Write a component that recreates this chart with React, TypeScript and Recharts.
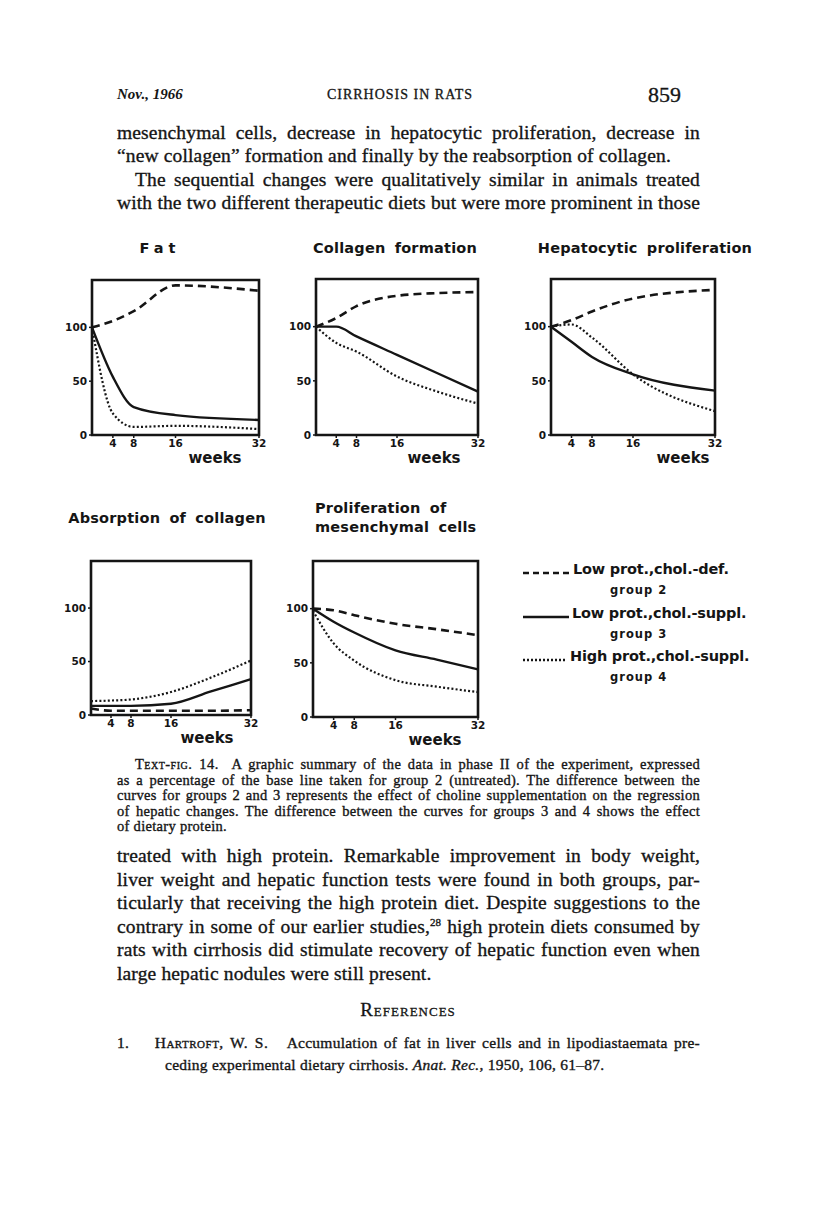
import React from 'react';
import { LineChart, Line, XAxis, YAxis, ReferenceArea } from 'recharts';

// weeks of observation and values (% of group 2 base line) for each panel
const fatWeeks = [0, 4, 8, 16, 32];
const fatGroup2 = [100, 106, 115, 139, 134];
const fatGroup3 = [100, 54, 26, 18.5, 14];
const fatGroup4 = [100, 20, 7.5, 8.5, 5.5];

const collagenWeeks = [0, 4, 8, 16, 24, 32];
const collagenGroup2 = [100, 108, 119, 128.5, 131, 132];
const collagenGroup3 = [100, 100, 91, 74, 57, 40];
const collagenGroup4 = [100, 85, 77, 54, 40, 29];

const hepatoWeeks = [0, 4, 8, 16, 32];
const hepatoGroup2 = [100, 106, 114, 126, 134];
const hepatoGroup3 = [100, 86, 72, 56, 41];
const hepatoGroup4 = [100, 102, 90, 56, 22];

const absorptionWeeks = [0, 4, 8, 16, 24, 32];
const absorptionGroup2 = [6, 4, 4, 4, 4, 4.5];
const absorptionGroup3 = [8.5, 8.5, 8.5, 10.5, 22, 33.5];
const absorptionGroup4 = [13, 13.5, 14.5, 21.5, 35, 51];

const mesenWeeks = [0, 4, 8, 16, 24, 32];
const mesenGroup2 = [100, 98.5, 94, 86, 81, 75.5];
const mesenGroup3 = [100, 88, 78, 61.5, 53, 44];
const mesenGroup4 = [98, 68, 52, 34, 28, 23];

const xTicks = [4, 8, 16, 32];
const yTicks = [0, 50, 100];

const INK = '#151515';
const SANS = '"DejaVu Sans", Verdana, sans-serif';
const SERIF = '"Liberation Serif", "Times New Roman", serif';

type Box = { l: number; t: number; r: number; b: number };

function Panel({ weeks, g2, g3, g4, box, weeksX }: {
  weeks: number[]; g2: number[]; g3: number[]; g4: number[]; box: Box; weeksX: number;
}) {
  const data = weeks.map((w, i) => ({ week: w, g2: g2[i], g3: g3[i], g4: g4[i] }));
  const yw = 45;
  const mt = 10;
  const mr = 14;
  const xh = 32;
  const pw = box.r - box.l;
  const ph = box.b - box.t;
  const tick = { fill: INK, fontSize: 10.5, fontWeight: 700, fontFamily: SANS };
  return (
    <div style={{ position: 'absolute', left: box.l - yw, top: box.t - mt }}>
      <LineChart width={pw + yw + mr} height={ph + mt + xh} data={data}
        margin={{ top: mt, right: mr, left: 0, bottom: 0 }}>
        <XAxis type="number" dataKey="week" domain={[0, 32]} ticks={xTicks} axisLine={false}
          tickLine={{ stroke: INK, strokeWidth: 1.5 }} tickSize={3} tick={tick} interval={0}
          height={xh}
          label={{ value: 'weeks', position: 'insideBottom', offset: 4, dx: weeksX - (box.l + pw / 2),
            fill: INK, fontSize: 15, fontWeight: 700, fontFamily: SANS }} />
        <YAxis type="number" domain={[0, 144]} ticks={yTicks} axisLine={false} width={yw}
          tickLine={{ stroke: INK, strokeWidth: 1.5 }} tickSize={3} tick={tick} interval={0} />
        <Line type="monotone" dataKey="g2" stroke={INK} strokeWidth={2.6} strokeDasharray="8 5"
          dot={false} isAnimationActive={false} />
        <Line type="monotone" dataKey="g3" stroke={INK} strokeWidth={2.4}
          dot={false} isAnimationActive={false} />
        <Line type="monotone" dataKey="g4" stroke={INK} strokeWidth={2.2} strokeDasharray="2 2.2"
          dot={false} isAnimationActive={false} />
        <ReferenceArea x1={0} x2={32} y1={0} y2={144} fill="none" stroke={INK} strokeWidth={2.6}
          ifOverflow="visible" />
      </LineChart>
    </div>
  );
}

function Title({ x, y, children, spacing = 0.2, anchor = 'center' }: {
  x: number; y: number; children: React.ReactNode; spacing?: number; anchor?: 'center' | 'left';
}) {
  return (
    <div style={{
      position: 'absolute', left: anchor === 'center' ? x - 150 : x, top: y - 10,
      width: anchor === 'center' ? 300 : 260, textAlign: anchor, fontFamily: SANS, fontWeight: 700,
      fontSize: 14.5, letterSpacing: spacing, wordSpacing: 4, lineHeight: '20px', color: INK,
    }}>{children}</div>
  );
}

function TextLine({ y, x = 117, w = 583, size = 19.5, spacing = 0.15, justify = true, children, style }: {
  y: number; x?: number; w?: number; size?: number; spacing?: number; justify?: boolean;
  children: React.ReactNode; style?: React.CSSProperties;
}) {
  return (
    <div style={{
      position: 'absolute', left: x, top: y - size * 0.62, width: w, fontFamily: SERIF,
      fontSize: size, lineHeight: `${size * 1.15}px`, color: INK, letterSpacing: spacing,
      textAlign: justify ? 'justify' : 'left', textAlignLast: justify ? 'justify' : 'left',
      WebkitTextStroke: '0.35px ' + INK, ...style,
    }}>{children}</div>
  );
}

function LegendRow({ y, dash, width, label, group }: {
  y: number; dash?: string; width: number; label: string; group: string;
}) {
  return (
    <>
      <svg style={{ position: 'absolute', left: 522, top: y - 3 }} width={width} height={6}>
        <line x1={1} y1={3} x2={width - 1} y2={3} stroke={INK} strokeWidth={2.5}
          strokeDasharray={dash} />
      </svg>
      <div style={{
        position: 'absolute', left: 522 + width + 2, top: y - 12, fontFamily: SANS, fontWeight: 700,
        fontSize: 14.5, letterSpacing: -0.2, color: INK, whiteSpace: 'nowrap',
      }}>{label}</div>
      <div style={{
        position: 'absolute', left: 610, top: y + 10, fontFamily: SANS, fontWeight: 700,
        fontSize: 11.5, letterSpacing: 1, color: INK, whiteSpace: 'nowrap',
      }}>{group}</div>
    </>
  );
}

export default function App() {
  const sc: React.CSSProperties = { fontVariant: 'small-caps', letterSpacing: 0.5 };
  return (
    <div style={{ position: 'absolute', left: 0, top: 0, width: 816, height: 1230, background: '#fff', overflow: 'hidden' }}>
      {/* running head */}
      <div style={{ position: 'absolute', left: 117, top: 86, fontFamily: SERIF, fontStyle: 'italic', fontWeight: 700, fontSize: 15, color: INK }}>Nov., 1966</div>
      <div style={{ position: 'absolute', left: 300, top: 87, width: 200, textAlign: 'center', fontFamily: SERIF, fontSize: 14, letterSpacing: 1, color: INK, WebkitTextStroke: '0.3px ' + INK }}>CIRRHOSIS IN RATS</div>
      <div style={{ position: 'absolute', left: 600, top: 82, width: 81, textAlign: 'right', fontFamily: SERIF, fontSize: 22, color: INK, WebkitTextStroke: '0.3px ' + INK }}>859</div>

      <TextLine y={134}>mesenchymal cells, decrease in hepatocytic proliferation, decrease in</TextLine>
      <TextLine y={157} justify={false}>“new collagen” formation and finally by the reabsorption of collagen.</TextLine>
      <TextLine y={181} x={135} w={565}>The sequential changes were qualitatively similar in animals treated</TextLine>
      <TextLine y={204}>with the two different therapeutic diets but were more prominent in those</TextLine>

      <Title x={160} y={248} spacing={5}>Fat</Title>
      <Title x={395} y={248}>Collagen formation</Title>
      <Title x={645} y={248}>Hepatocytic proliferation</Title>
      <Title x={167} y={518}>Absorption of collagen</Title>
      <Title x={315} y={508} anchor="left">Proliferation of</Title>
      <Title x={315} y={527} anchor="left">mesenchymal cells</Title>

      <Panel weeks={fatWeeks} g2={fatGroup2} g3={fatGroup3} g4={fatGroup4}
        box={{ l: 92, t: 280, r: 259, b: 435 }} weeksX={215} />
      <Panel weeks={collagenWeeks} g2={collagenGroup2} g3={collagenGroup3} g4={collagenGroup4}
        box={{ l: 316, t: 279, r: 478, b: 435 }} weeksX={434} />
      <Panel weeks={hepatoWeeks} g2={hepatoGroup2} g3={hepatoGroup3} g4={hepatoGroup4}
        box={{ l: 551, t: 279, r: 715, b: 435 }} weeksX={683} />
      <Panel weeks={absorptionWeeks} g2={absorptionGroup2} g3={absorptionGroup3} g4={absorptionGroup4}
        box={{ l: 91, t: 561, r: 251, b: 715 }} weeksX={207} />
      <Panel weeks={mesenWeeks} g2={mesenGroup2} g3={mesenGroup3} g4={mesenGroup4}
        box={{ l: 313, t: 561, r: 478, b: 717 }} weeksX={435} />

      <LegendRow y={573} dash="6 4" width={49} label="Low prot.,chol.-def." group="group 2" />
      <LegendRow y={617} width={48} label="Low prot.,chol.-suppl." group="group 3" />
      <LegendRow y={660} dash="2 2" width={46} label="High prot.,chol.-suppl." group="group 4" />

      {/* caption */}
      <TextLine y={765} x={135} w={565} size={14.5} spacing={0.3}><span style={sc}>Text-fig. 14.</span>&nbsp; A graphic summary of the data in phase II of the experiment, expressed</TextLine>
      <TextLine y={780.5} size={14.5} spacing={0.3}>as a percentage of the base line taken for group 2 (untreated). The difference between the</TextLine>
      <TextLine y={796} size={14.5} spacing={0.3}>curves for groups 2 and 3 represents the effect of choline supplementation on the regression</TextLine>
      <TextLine y={811.5} size={14.5} spacing={0.3}>of hepatic changes. The difference between the curves for groups 3 and 4 shows the effect</TextLine>
      <TextLine y={827} size={14.5} spacing={0.3} justify={false}>of dietary protein.</TextLine>

      <TextLine y={857}>treated with high protein. Remarkable improvement in body weight,</TextLine>
      <TextLine y={881}>liver weight and hepatic function tests were found in both groups, par-</TextLine>
      <TextLine y={904}>ticularly that receiving the high protein diet. Despite suggestions to the</TextLine>
      <TextLine y={928}>contrary in some of our earlier studies,<sup style={{ fontSize: 11, lineHeight: 0 }}>28</sup> high protein diets consumed by</TextLine>
      <TextLine y={951}>rats with cirrhosis did stimulate recovery of hepatic function even when</TextLine>
      <TextLine y={975} justify={false}>large hepatic nodules were still present.</TextLine>

      <div style={{ position: 'absolute', left: 308, top: 999, width: 200, textAlign: 'center', fontFamily: SERIF, fontSize: 19, fontVariant: 'small-caps', letterSpacing: 1, color: INK, WebkitTextStroke: '0.3px ' + INK }}>References</div>
      <TextLine y={1044} size={15.5} spacing={0.25}>1.&nbsp;&nbsp;&nbsp; <span style={sc}>Hartroft, W. S.</span>&nbsp;&nbsp; Accumulation of fat in liver cells and in lipodiastaemata pre-</TextLine>
      <TextLine y={1066} x={165} size={15.5} spacing={0.25} justify={false}>ceding experimental dietary cirrhosis. <i>Anat. Rec.</i>, 1950, 106, 61–87.</TextLine>
    </div>
  );
}
